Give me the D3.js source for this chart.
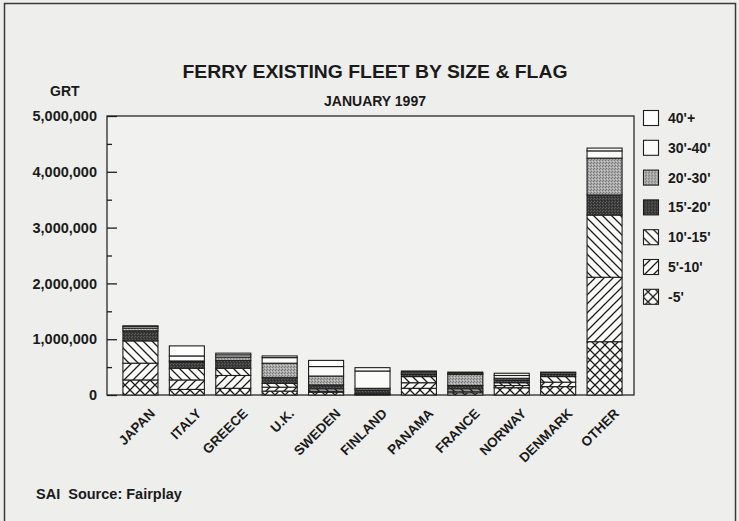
<!DOCTYPE html>
<html>
<head>
<meta charset="utf-8">
<script src="https://cdn.jsdelivr.net/npm/d3@7"></script>
<style>
  html, body { margin: 0; padding: 0; background: #eeeeec; }
  svg { display: block; }
  text { font-family: "Liberation Sans", Arial, Helvetica, sans-serif; fill: #1a1a1a; }
</style>
</head>
<body>
<svg id="chart" width="739" height="521"></svg>
<script>
// Flags (x categories)
const categories = ["JAPAN", "ITALY", "GREECE", "U.K.", "SWEDEN", "FINLAND",
                    "PANAMA", "FRANCE", "NORWAY", "DENMARK", "OTHER"];

// Size classes, stacked bottom to top
const sizeClasses = ["-5'", "5'-10'", "10'-15'", "15'-20'", "20'-30'", "30'-40'", "40'+"];

// GRT per size class, one value per flag
const under5   = [270000, 100000, 120000,  70000,  50000,  10000, 120000,  40000, 130000, 150000,  955000];
const s5to10   = [300000, 170000, 230000,  70000,  20000,      0, 100000,  30000,  40000,  80000, 1155000];
const s10to15  = [400000, 210000, 130000,  70000,  40000,  10000, 110000,  40000,  50000, 100000, 1115000];
const s15to20  = [180000, 110000, 140000, 100000,  70000,  70000,  40000,  60000,  50000,  40000,  360000];
const s20to30  = [ 50000,  20000,  60000, 260000, 160000,  30000,  10000, 200000,  30000,  30000,  660000];
const s30to40  = [ 30000,  90000,  40000, 100000, 170000, 310000,  30000,  20000,  50000,  10000,  130000];
const s40plus  = [ 10000, 180000,  30000,  30000, 110000,  60000,  20000,  20000,  40000,      0,   50000];

// Axis ticks
const majorTicks = [0, 1000000, 2000000, 3000000, 4000000, 5000000];
const minorTicks = [500000, 1500000, 2500000, 3500000, 4500000];

const seriesValues = [under5, s5to10, s10to15, s15to20, s20to30, s30to40, s40plus];
const rows = categories.map((c, i) => {
  const r = { flag: c };
  sizeClasses.forEach((s, k) => { r[s] = seriesValues[k][i]; });
  return r;
});

const svg = d3.select("#chart");

// outer frame (bottom edge runs off the page)
svg.append("rect")
  .attr("x", 4.5).attr("y", 3.5).attr("width", 731).attr("height", 530)
  .attr("fill", "#eeeeec").attr("stroke", "#3a3a3a").attr("stroke-width", 1.5);

// ---- fill patterns ----
const defs = svg.append("defs");
const ink = "#1e1e1e";

function hatch(id, size, d, w) {
  const p = defs.append("pattern").attr("id", id)
    .attr("patternUnits", "userSpaceOnUse").attr("width", size).attr("height", size);
  p.append("rect").attr("width", size).attr("height", size).attr("fill", "#fbfbfa");
  p.append("path").attr("d", d).attr("stroke", ink).attr("stroke-width", w).attr("fill", "none");
}
function stipple(id, base, dark, light) {
  const p = defs.append("pattern").attr("id", id)
    .attr("patternUnits", "userSpaceOnUse").attr("width", 3).attr("height", 3);
  p.append("rect").attr("width", 3).attr("height", 3).attr("fill", base);
  p.append("rect").attr("x", 0).attr("y", 0).attr("width", 1).attr("height", 1).attr("fill", dark);
  p.append("rect").attr("x", 2).attr("y", 1).attr("width", 1).attr("height", 1).attr("fill", dark);
  p.append("rect").attr("x", 1).attr("y", 2).attr("width", 1).attr("height", 1).attr("fill", light);
}
const hs = 9;
hatch("back", hs, `M0,0L${hs},${hs}M${-hs/2},${hs/2}L${hs/2},${hs*1.5}M${hs/2},${-hs/2}L${hs*1.5},${hs/2}`, 1.3);
hatch("fwd", hs, `M0,${hs}L${hs},0M${-hs/2},${hs/2}L${hs/2},${-hs/2}M${hs/2},${hs*1.5}L${hs*1.5},${hs/2}`, 1.3);
const cs = 10;
hatch("cross", cs, `M0,0L${cs},${cs}M0,${cs}L${cs},0`, 1.3);
stipple("gray", "#a9a9a9", "#7a7a7a", "#d0d0d0");
stipple("dark", "#3a3a3a", "#5e5e5e", "#2a2a2a");

const fills = {
  "-5'": "url(#cross)",
  "5'-10'": "url(#fwd)",
  "10'-15'": "url(#back)",
  "15'-20'": "url(#dark)",
  "20'-30'": "url(#gray)",
  "30'-40'": "#fbfbfa",
  "40'+": "#fdfdfd"
};

// ---- scales ----
const plot = { left: 107, right: 634, top: 116, bottom: 395 };
const y = d3.scaleLinear().domain([0, 5000000]).range([plot.bottom, plot.top]);
const x = d3.scaleBand().domain(categories).range([109, 636])
  .paddingInner(0.245).paddingOuter(0.3);

// plot frame
svg.append("rect")
  .attr("x", plot.left).attr("y", plot.top)
  .attr("width", plot.right - plot.left).attr("height", plot.bottom - plot.top)
  .attr("fill", "#f1f1ef").attr("stroke", "#2a2a2a").attr("stroke-width", 1.3);

// ---- stacked bars ----
const stack = d3.stack().keys(sizeClasses)(rows);
svg.append("g").selectAll("g").data(stack).join("g")
  .attr("fill", d => fills[d.key])
  .selectAll("rect").data(d => d).join("rect")
  .attr("x", d => x(d.data.flag))
  .attr("width", x.bandwidth())
  .attr("y", d => y(d[1]))
  .attr("height", d => y(d[0]) - y(d[1]))
  .attr("stroke", ink).attr("stroke-width", 1.1);

// ---- y axis: inward ticks, labels outside ----
const yAxis = svg.append("g").attr("transform", `translate(${plot.left},0)`)
  .call(d3.axisLeft(y).tickValues(majorTicks).tickFormat(d3.format(","))
    .tickSizeInner(-10).tickSizeOuter(0).tickPadding(10));
yAxis.select(".domain").remove();
yAxis.selectAll("line").attr("stroke", ink).attr("stroke-width", 1.3);
yAxis.selectAll("text").style("font-size", "14.5px").style("font-weight", "bold").attr("fill", "#1a1a1a");

const yMinor = svg.append("g").attr("transform", `translate(${plot.left},0)`)
  .call(d3.axisLeft(y).tickValues(minorTicks).tickFormat("").tickSizeInner(-5).tickSizeOuter(0));
yMinor.select(".domain").remove();
yMinor.selectAll("line").attr("stroke", ink).attr("stroke-width", 1.3);

// ---- x axis: rotated flag labels ----
const xAxis = svg.append("g").attr("transform", `translate(0,${plot.bottom})`)
  .call(d3.axisBottom(x).tickSize(0).tickPadding(0));
xAxis.select(".domain").remove();
xAxis.selectAll("text")
  .attr("x", 0).attr("y", 0).attr("dy", "0.35em")
  .attr("transform", "translate(12,16) rotate(-45)")
  .attr("text-anchor", "end")
  .style("font-size", "13.5px").style("font-weight", "bold").attr("fill", "#1a1a1a");

// ---- legend ----
const legendOrder = sizeClasses.slice().reverse();
const lg = svg.append("g").selectAll("g").data(legendOrder).join("g")
  .attr("transform", (d, i) => `translate(643,${118 + i * 29.8})`);
lg.append("rect").attr("x", 0.5).attr("y", -7.5).attr("width", 15).attr("height", 15)
  .attr("fill", d => fills[d]).attr("stroke", ink).attr("stroke-width", 1.1);
lg.append("text").attr("x", 25).attr("y", 0).attr("dy", "0.36em")
  .style("font-size", "14px").style("font-weight", "bold").text(d => d);

// ---- titles and notes ----
svg.append("text").attr("x", 375).attr("y", 78).attr("text-anchor", "middle")
  .attr("textLength", 385).attr("lengthAdjust", "spacingAndGlyphs")
  .style("font-size", "19px").style("font-weight", "bold").attr("fill", "#1a1a1a")
  .text("FERRY EXISTING FLEET BY SIZE & FLAG");
svg.append("text").attr("x", 375).attr("y", 106).attr("text-anchor", "middle")
  .style("font-size", "14px").style("font-weight", "bold")
  .text("JANUARY 1997");
svg.append("text").attr("x", 50).attr("y", 96)
  .style("font-size", "14px").style("font-weight", "bold")
  .text("GRT");
svg.append("text").attr("x", 36).attr("y", 499)
  .style("font-size", "14.5px").style("font-weight", "bold").style("white-space", "pre")
  .text("SAI  Source: Fairplay");
</script>
</body>
</html>
